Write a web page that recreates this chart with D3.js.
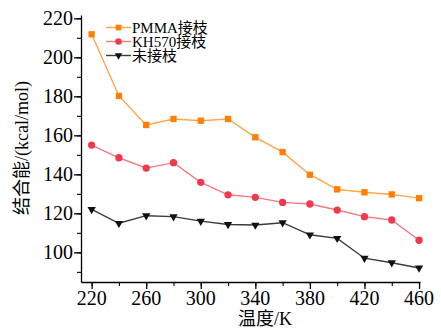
<!DOCTYPE html>
<html><head><meta charset="utf-8">
<script src="https://cdn.jsdelivr.net/npm/d3@7"></script>
<style>
svg text, svg tspan { font-family: "Liberation Serif", "Times New Roman", serif !important; }
svg tspan.cjk { font-family: "Noto Sans CJK SC", sans-serif !important; }
</style>
</head><body>
<script>
const temps = [220,240,260,280,300,320,340,360,380,400,420,440,460];
const pmma = [211.8,180.2,165.3,168.4,167.5,168.4,159,151.4,139.8,132.3,130.8,129.7,127.8];
const kh570 = [155,148.5,143.2,146,135.9,129.5,128.2,125.6,124.8,121.7,118.3,116.6,106.2];
const none = [122,114.9,118.8,118.3,116,114.3,114,115.2,109,107.2,97,94.7,92];
const seriesNames = ["PMMA接枝","KH570接枝","未接枝"];
const xTicks = [220,260,300,340,380,420,460];
const yTicks = [100,120,140,160,180,200,220];

document.body.style.margin="0";
const W=441,H=330;
const SERIF="Liberation Serif", CJK="Noto Sans CJK SC";
const svg=d3.select("body").append("svg").attr("width",W).attr("height",H).style("display","block");
const x=d3.scaleLinear().domain([212.2,460.7]).range([81,420]);
const y=d3.scaleLinear().domain([84.8,221.7]).range([282,15]);

function mixed(sel, str){
  const runs = str.match(/[\u3000-\u9fff]+|[^\u3000-\u9fff]+/g);
  runs.forEach(r=>{
    const isCjk=/[\u3000-\u9fff]/.test(r);
    sel.append("tspan").attr("class",isCjk?"cjk":"lat").attr("font-family", isCjk?CJK:SERIF).text(r);
  });
  return sel;
}

// minor ticks
const gx=svg.append("g").attr("transform","translate(0,282)");
gx.call(d3.axisBottom(x).tickValues(d3.range(220,461,20)).tickSize(4).tickFormat(""));
gx.call(g=>g.select(".domain").remove());
gx.selectAll("line").attr("stroke","#000").attr("stroke-width",1.1);
const gy=svg.append("g").attr("transform","translate(81,0)");
gy.call(d3.axisLeft(y).tickValues(d3.range(90,221,10)).tickSize(4).tickFormat(""));
gy.call(g=>g.select(".domain").remove());
gy.selectAll("line").attr("stroke","#000").attr("stroke-width",1.1);

// major ticks + axis lines
const gx2=svg.append("g").attr("transform","translate(0,282)")
  .call(d3.axisBottom(x).tickValues(xTicks).tickSize(7).tickSizeOuter(0).tickFormat(""));
gx2.selectAll("line,path").attr("stroke","#000").attr("stroke-width",1.3);
const gy2=svg.append("g").attr("transform","translate(81,0)")
  .call(d3.axisLeft(y).tickValues(yTicks).tickSize(7).tickSizeOuter(0).tickFormat(""));
gy2.selectAll("line,path").attr("stroke","#000").attr("stroke-width",1.3);

// tick labels
svg.append("g").selectAll("text").data(xTicks).join("text")
  .attr("x",d=>x(d)).attr("y",305).attr("text-anchor","middle")
  .attr("font-family",SERIF).attr("font-size",20).text(d=>d);
svg.append("g").selectAll("text").data(yTicks).join("text")
  .attr("x",73).attr("y",d=>y(d)+7).attr("text-anchor","end")
  .attr("font-family",SERIF).attr("font-size",20).text(d=>d);

// axis titles
mixed(svg.append("text").attr("transform","translate(28,148) rotate(-90)").attr("text-anchor","middle")
  .attr("font-size",18), "结合能/(kcal/mol)");
mixed(svg.append("text").attr("x",265).attr("y",325).attr("text-anchor","middle")
  .attr("font-size",18), "温度/K");

const series=[
  {name:seriesNames[0],vals:pmma,line:"#FFA54A",mark:"#FF8000",shape:d3.symbolSquare,size:40,rot:0},
  {name:seriesNames[1],vals:kh570,line:"#F27A85",mark:"#EE3A4A",shape:d3.symbolCircle,size:42,rot:0},
  {name:seriesNames[2],vals:none,line:"#3a3a3a",mark:"#111",shape:d3.symbolTriangle,size:30,rot:180}
];
const line=d3.line().x((d,i)=>x(temps[i])).y(d=>y(d));
series.forEach(s=>{
  svg.append("path").datum(s.vals).attr("d",line).attr("fill","none").attr("stroke",s.line).attr("stroke-width",1.4);
  svg.append("g").selectAll("path").data(s.vals).join("path")
    .attr("d",d3.symbol().type(s.shape).size(s.size))
    .attr("transform",(d,i)=>`translate(${x(temps[i])},${y(d)}) rotate(${s.rot})`)
    .attr("fill",s.mark);
});

// legend
const lg=svg.append("g");
series.forEach((s,i)=>{
  const yy=27.5+i*14;
  lg.append("line").attr("x1",106).attr("x2",131).attr("y1",yy).attr("y2",yy).attr("stroke",s.line).attr("stroke-width",1.4);
  lg.append("path").attr("d",d3.symbol().type(s.shape).size(s.size*0.8)).attr("transform",`translate(118.5,${yy}) rotate(${s.rot})`).attr("fill",s.mark);
  mixed(lg.append("text").attr("x",132).attr("y",yy+5).attr("font-size",15), s.name);
});
</script>
</body></html>
